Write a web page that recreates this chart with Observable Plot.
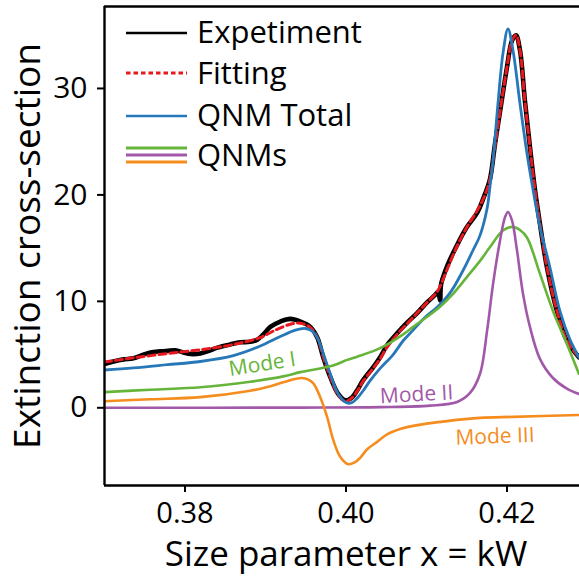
<!DOCTYPE html>
<html><head><meta charset="utf-8">
<script src="https://cdn.jsdelivr.net/npm/d3@7"></script>
<script src="https://cdn.jsdelivr.net/npm/@observablehq/plot@0.6"></script>
<style>
html,body{margin:0;padding:0;background:#fff;overflow:hidden;width:579px;height:576px}
#wrap{position:relative;width:587px;height:576px}
#legend{position:absolute;left:0;top:0;pointer-events:none}
</style></head><body><div id="wrap"></div>
<script>
// ---- data ----
const expX = [0.37000,0.37112,0.37236,0.37360,0.37484,0.37571,0.37695,0.37782,0.37881,0.37980,0.38067,0.38191,0.38315,0.38402,0.38563,0.38687,0.38811,0.38898,0.38973,0.39060,0.39184,0.39308,0.39432,0.39556,0.39643,0.39717,0.39804,0.39903,0.39990,0.40077,0.40151,0.40213,0.40337,0.40424,0.40511,0.40635,0.40759,0.40883,0.41007,0.41107,0.41144,0.41169,0.41181,0.41256,0.41380,0.41504,0.41628,0.41727,0.41789,0.41851,0.41913,0.42000,0.42062,0.42112,0.42161,0.42223,0.42285,0.42347,0.42409,0.42496,0.42620,0.42744,0.42893];
const expY = [4.1,4.35,4.55,4.65,5.0,5.2,5.3,5.35,5.4,5.2,5.05,5.1,5.4,5.65,5.95,6.15,6.2,6.4,6.9,7.6,8.1,8.35,8.1,7.6,6.6,4.75,2.9,1.3,0.7,1.0,1.8,2.6,3.8,4.75,5.9,7.0,8.0,8.9,9.9,10.6,10.9,10.1,11.6,13.3,15.3,17.0,18.3,20.1,21.5,24.8,27.8,32.0,34.5,35.0,33.6,28.8,24.5,20.5,17.3,13.2,9.1,6.3,4.75];

const fitX = [0.37000,0.37360,0.37782,0.38191,0.38600,0.38935,0.39122,0.39308,0.39432,0.39556,0.39643,0.39717,0.39804,0.39903,0.39990,0.40077,0.40151,0.40213,0.40337,0.40424,0.40511,0.40635,0.40759,0.40883,0.41007,0.41132,0.41256,0.41380,0.41504,0.41628,0.41727,0.41789,0.41851,0.41913,0.42000,0.42062,0.42112,0.42161,0.42223,0.42285,0.42347,0.42409,0.42496,0.42620,0.42744,0.42893];
const fitY = [4.3,4.7,5.1,5.45,5.95,6.6,7.3,7.85,7.95,7.55,6.6,4.8,2.9,1.2,0.6,0.95,1.7,2.5,3.7,4.6,5.7,6.9,7.9,8.9,9.9,10.9,13.0,15.2,17.0,18.5,20.0,21.5,24.6,27.8,32.0,34.5,35.0,33.6,28.8,24.5,20.5,17.3,13.2,9.1,6.3,4.75];

const totalX = [0.37000,0.37360,0.37782,0.38191,0.38600,0.38935,0.39184,0.39370,0.39494,0.39581,0.39643,0.39717,0.39804,0.39903,0.40015,0.40077,0.40139,0.40213,0.40300,0.40424,0.40586,0.40710,0.40834,0.40983,0.41132,0.41293,0.41454,0.41578,0.41665,0.41752,0.41789,0.41826,0.41888,0.41950,0.42012,0.42074,0.42161,0.42248,0.42323,0.42409,0.42533,0.42657,0.42782,0.42893];
const totalY = [3.55,3.75,4.05,4.35,4.9,5.8,6.7,7.3,7.45,7.2,6.6,5.1,3.2,1.3,0.45,0.5,0.9,1.6,2.55,3.7,5.0,6.3,7.3,8.5,9.45,10.8,12.9,14.8,16.2,18.7,20.8,23.2,28.6,33.3,35.6,33.6,28.6,23.9,20.5,17.0,13.2,9.1,6.4,4.75];

const mode1X = [0.37000,0.37571,0.38191,0.38811,0.39221,0.39432,0.39841,0.40015,0.40139,0.40424,0.40710,0.40834,0.41169,0.41330,0.41504,0.41665,0.41789,0.41950,0.42074,0.42161,0.42248,0.42409,0.42571,0.42744,0.42893];
const mode1Y = [1.47,1.7,1.93,2.45,2.95,3.35,3.97,4.5,4.8,5.6,6.9,7.6,9.5,10.7,12.3,13.8,15.1,16.65,17.0,16.7,16.0,12.6,9.1,6.0,3.2];

const mode2X = [0.37000,0.39432,0.40424,0.41045,0.41380,0.41541,0.41665,0.41752,0.41826,0.41913,0.41975,0.42012,0.42062,0.42124,0.42199,0.42285,0.42409,0.42571,0.42744,0.42893];
const mode2Y = [0.0,0.02,0.06,0.2,0.55,1.4,3.2,7.2,11.6,15.7,17.9,18.4,17.6,14.8,10.7,7.6,4.6,2.8,1.8,1.3];

const mode3X = [0.37000,0.37571,0.38191,0.38811,0.39022,0.39221,0.39457,0.39581,0.39680,0.39767,0.39841,0.39928,0.40027,0.40114,0.40176,0.40263,0.40387,0.40511,0.40672,0.40834,0.41256,0.41665,0.42074,0.42893];
const mode3Y = [0.62,0.8,1.0,1.6,1.95,2.4,2.8,2.4,1.0,-0.9,-3.0,-4.6,-5.3,-5.1,-4.7,-3.9,-3.2,-2.5,-2.0,-1.7,-1.25,-0.95,-0.85,-0.68];

const modeNames = ["Mode I", "Mode II", "Mode III"];
const modeLabelX = [0.38960, 0.40877, 0.41851];
const modeLabelY = [4.1, 1.25, -2.7];

const xTicks = [0.38, 0.40, 0.42];
const yTicks = [0, 10, 20, 30];
const xDomain = [0.37, 0.43];
const yDomain = [-7.3, 37.7];
const xLabel = "Size parameter x = kW";
const yLabel = "Extinction cross-section";
const legendLabels = ["Expetiment", "Fitting", "QNM Total", "QNMs"];

// ---- styles ----
const C = {exp: "#000000", fit: "#e8191e", total: "#2678b8", m1: "#66b53a", m2: "#a258a8", m3: "#f58d1e"};
const FONT = "'Open Sans', 'Noto Sans', sans-serif";

const zip = (xs, ys) => xs.map((x, i) => ({x, y: ys[i]}));
const lineOpts = (stroke, strokeWidth, extra = {}) => ({x: "x", y: "y", stroke, strokeWidth, curve: "catmull-rom", clip: true, ...extra});
const modeTable = modeNames.map((name, i) => ({name, x: modeLabelX[i], y: modeLabelY[i]}));
const modeColors = [C.m1, C.m2, C.m3];
const modeRot = [-9, -3, -2];

const chart = Plot.plot({
  width: 587, height: 576,
  marginLeft: 104, marginRight: 0, marginTop: 6, marginBottom: 91,
  style: {fontFamily: FONT, background: "white", color: "black", overflow: "visible"},
  x: {domain: xDomain},
  y: {domain: yDomain},
  marks: [
    Plot.line(zip(expX, expY), lineOpts(C.exp, 4.6, {strokeLinejoin: "round"})),
    Plot.line(zip(fitX, fitY), lineOpts(C.fit, 3, {strokeDasharray: "7,4"})),
    Plot.line(zip(totalX, totalY), lineOpts(C.total, 2.8)),
    Plot.line(zip(mode1X, mode1Y), lineOpts(C.m1, 2.6)),
    Plot.line(zip(mode2X, mode2Y), lineOpts(C.m2, 2.6)),
    Plot.line(zip(mode3X, mode3Y), lineOpts(C.m3, 2.6)),
    ...modeTable.map((d, i) => Plot.text([d], {x: "x", y: "y", text: "name", fill: modeColors[i], fontSize: 21, rotate: modeRot[i], textAnchor: "middle"})),
    Plot.axisX({ticks: xTicks, tickFormat: d3.format(".2f"), tickSize: 7, tickPadding: 10, strokeWidth: 2, fontSize: 29, label: null}),
    Plot.axisX({ticks: [], label: xLabel, labelAnchor: "center", labelOffset: 80, labelArrow: "none", fontSize: 35}),
    Plot.axisY({ticks: yTicks, tickSize: 7, tickPadding: 10, strokeWidth: 2, fontSize: 30, label: null}),
    Plot.axisY({ticks: [], label: yLabel, labelAnchor: "center", labelOffset: 91, labelArrow: "none", fontSize: 37, dy: -12}),
    Plot.ruleX([xDomain[0]], {strokeWidth: 2.4}),
    Plot.ruleY([yDomain[0]], {strokeWidth: 2.4}),
    Plot.ruleY([yDomain[1]], {strokeWidth: 2.4})
  ]
});
const wrap = document.getElementById("wrap");
wrap.appendChild(chart);

// ---- legend (inside the axes, top-left) ----
const NS = "http://www.w3.org/2000/svg";
const lg = document.createElementNS(NS, "svg");
lg.setAttribute("id", "legend");
lg.setAttribute("width", 400);
lg.setAttribute("height", 190);
const rows = [
  {label: legendLabels[0], lines: [{c: C.exp, w: 2.7, y: 33}], ty: 43},
  {label: legendLabels[1], lines: [{c: C.fit, w: 3.2, y: 73, dash: "4.5,3"}], ty: 84},
  {label: legendLabels[2], lines: [{c: C.total, w: 2.6, y: 116}], ty: 126},
  {label: legendLabels[3], lines: [{c: C.m1, w: 3.2, y: 148}, {c: C.m2, w: 3.2, y: 155}, {c: C.m3, w: 3.2, y: 162}], ty: 166}
];
for (const r of rows) {
  for (const l of r.lines) {
    const ln = document.createElementNS(NS, "line");
    ln.setAttribute("x1", 126); ln.setAttribute("x2", 187);
    ln.setAttribute("y1", l.y); ln.setAttribute("y2", l.y);
    ln.setAttribute("stroke", l.c); ln.setAttribute("stroke-width", l.w);
    if (l.dash) ln.setAttribute("stroke-dasharray", l.dash);
    lg.appendChild(ln);
  }
  const t = document.createElementNS(NS, "text");
  t.setAttribute("x", 197); t.setAttribute("y", r.ty);
  t.setAttribute("font-size", 31); t.setAttribute("font-family", FONT);
  t.setAttribute("fill", "#000");
  t.textContent = r.label;
  lg.appendChild(t);
}
wrap.appendChild(lg);
</script></body></html>
